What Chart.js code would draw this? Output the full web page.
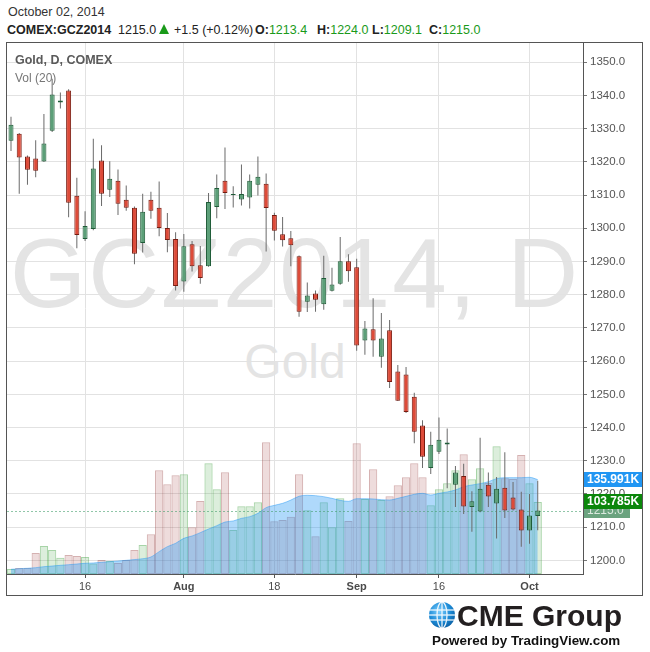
<!DOCTYPE html>
<html>
<head>
<meta charset="utf-8">
<script src="https://cdn.jsdelivr.net/npm/chart.js@4.4.1/dist/chart.umd.min.js"></script>
<style>
html,body{margin:0;padding:0;background:#fff;}
body{width:650px;height:652px;position:relative;overflow:hidden;font-family:"Liberation Sans",Arial,sans-serif;}
.abs{position:absolute;white-space:nowrap;line-height:1;}
#wm1,#wm2{position:absolute;left:7px;width:576px;text-align:center;color:#e4e4e4;white-space:nowrap;line-height:1;z-index:0;}
#wm1{font-size:98px;top:224px;letter-spacing:2px;}
#wm2{font-size:48px;top:338px;}
#c{position:absolute;left:0;top:0;z-index:1;}
#frame{position:absolute;left:6px;top:42px;width:637px;height:554px;box-sizing:border-box;border:1px solid #555;z-index:2;pointer-events:none;}
.ov{z-index:3;}
.b{font-weight:bold;}
.g{color:#1a9a1a;}
</style>
</head>
<body>
<div class="abs" style="left:8px;top:6px;font-size:12.5px;color:#333;">October 02, 2014</div>
<div class="abs b" style="left:7px;top:24px;font-size:12.5px;color:#222;">COMEX:GCZ2014</div>
<div class="abs" style="left:118px;top:24px;font-size:12.5px;color:#222;">1215.0</div>
<div class="abs" style="left:159px;top:24px;width:0;height:0;border-left:5px solid transparent;border-right:5px solid transparent;border-bottom:10px solid #1a9a1a;"></div>
<div class="abs" style="left:174px;top:24px;font-size:12.5px;color:#222;">+1.5 (+0.12%)</div>
<div class="abs" style="left:255px;top:24px;font-size:12.5px;color:#222;"><span class="b">O:</span><span class="g">1213.4</span></div>
<div class="abs" style="left:317px;top:24px;font-size:12.5px;color:#222;"><span class="b">H:</span><span class="g">1224.0</span></div>
<div class="abs" style="left:372px;top:24px;font-size:12.5px;color:#222;"><span class="b">L:</span><span class="g">1209.1</span></div>
<div class="abs" style="left:429px;top:24px;font-size:12.5px;color:#222;"><span class="b">C:</span><span class="g">1215.0</span></div>

<div id="wm1">GCZ2014, D</div>
<div id="wm2">Gold</div>

<canvas id="c" width="650" height="652"></canvas>
<div id="frame"></div>

<div class="abs ov b" style="left:15px;top:54px;font-size:12.5px;color:#5a5a5a;">Gold, D, COMEX</div>
<div class="abs ov" style="left:15px;top:72px;font-size:12px;color:#777;">Vol (20)</div>

<svg class="abs ov" style="left:428px;top:601px;" width="28" height="28" viewBox="0 0 28 28">
  <defs>
    <radialGradient id="gl" cx="40%" cy="35%" r="70%">
      <stop offset="0" stop-color="#7fd0ff"/>
      <stop offset="0.6" stop-color="#1b8ad6"/>
      <stop offset="1" stop-color="#0b5fa3"/>
    </radialGradient>
  </defs>
  <circle cx="14" cy="14" r="13" fill="url(#gl)"/>
  <g stroke="#fff" stroke-width="1.3" fill="none" opacity="0.9">
    <line x1="1.5" y1="9" x2="26.5" y2="9"/>
    <line x1="1" y1="14" x2="27" y2="14"/>
    <line x1="1.5" y1="19" x2="26.5" y2="19"/>
    <ellipse cx="14" cy="14" rx="5" ry="13"/>
    <line x1="14" y1="1" x2="14" y2="27"/>
  </g>
</svg>
<div class="abs ov b" style="left:457px;top:601px;font-size:30px;color:#231f20;">CME Group</div>
<div class="abs ov b" style="left:432px;top:634px;font-size:13.4px;color:#111;">Powered by TradingView.com</div>

<script>
// ---------- data ----------
const days = [
 '2014-07-02','2014-07-03','2014-07-07','2014-07-08','2014-07-09','2014-07-10','2014-07-11',
 '2014-07-14','2014-07-15','2014-07-16','2014-07-17','2014-07-18','2014-07-21','2014-07-22',
 '2014-07-23','2014-07-24','2014-07-25','2014-07-28','2014-07-29','2014-07-30','2014-07-31',
 '2014-08-01','2014-08-04','2014-08-05','2014-08-06','2014-08-07','2014-08-08','2014-08-11',
 '2014-08-12','2014-08-13','2014-08-14','2014-08-15','2014-08-18','2014-08-19','2014-08-20',
 '2014-08-21','2014-08-22','2014-08-25','2014-08-26','2014-08-27','2014-08-28','2014-08-29',
 '2014-09-02','2014-09-03','2014-09-04','2014-09-05','2014-09-08','2014-09-09','2014-09-10',
 '2014-09-11','2014-09-12','2014-09-15','2014-09-16','2014-09-17','2014-09-18','2014-09-19',
 '2014-09-22','2014-09-23','2014-09-24','2014-09-25','2014-09-26','2014-09-29','2014-09-30',
 '2014-10-01','2014-10-02'
];
const opens = [
 1326.4,1328.5,1321.6,1321.0,1320.1,1329.4,1337.9,1341.5,1309.8,1296.8,1299.8,1320.4,1311.6,1314.3,
 1308.6,1306.2,1295.6,1308.6,1306.2,1300.1,1296.8,1284.0,1295.2,1288.9,1288.6,1306.4,1314.3,1310.0,
 1308.7,1309.3,1313.1,1313.4,1304.0,1298.2,1297.0,1291.6,1277.9,1280.4,1277.1,1281.2,1283.3,1290.1,
 1288.3,1266.2,1269.6,1261.3,1269.3,1256.9,1256.0,1249.3,1240.6,1227.8,1232.7,1234.9,1222.8,1225.4,
 1216.1,1214.7,1222.8,1217.1,1221.9,1218.9,1215.3,1209.0,1213.4
];
const highs = [
 1333.6,1328.7,1321.9,1326.5,1334.4,1345.0,1340.9,1341.9,1315.2,1305.1,1327.0,1325.0,1320.2,1317.7,
 1312.9,1306.6,1310.4,1311.0,1314.1,1304.6,1298.8,1298.3,1296.2,1294.7,1310.6,1316.2,1324.3,1312.7,
 1319.2,1316.2,1321.6,1316.5,1304.7,1303.4,1299.2,1291.8,1283.7,1281.3,1291.7,1288.1,1297.4,1292.2,
 1290.8,1272.1,1278.9,1274.5,1272.4,1258.8,1258.2,1250.5,1242.2,1238.7,1243.0,1239.7,1228.4,1229.1,
 1220.8,1236.9,1226.5,1225.1,1232.6,1223.6,1220.7,1220.0,1224.0
];
const lows = [
 1323.3,1310.4,1313.1,1315.4,1320.0,1329.0,1336.1,1303.3,1294.0,1296.2,1299.4,1306.7,1309.4,1304.0,
 1305.3,1289.2,1292.7,1302.9,1297.6,1292.8,1281.3,1280.9,1287.0,1283.3,1288.4,1303.0,1305.8,1306.3,
 1306.9,1306.0,1309.9,1293.0,1296.3,1294.5,1288.6,1273.4,1274.8,1274.9,1275.5,1281.0,1283.0,1283.9,
 1263.1,1261.9,1261.3,1258.0,1251.9,1248.0,1244.4,1235.3,1227.8,1226.0,1232.0,1221.7,1216.1,1214.0,
 1208.6,1214.5,1216.1,1206.6,1212.8,1215.0,1204.1,1205.0,1209.1
];
const closes = [
 1331.2,1321.3,1317.6,1317.3,1325.5,1340.3,1338.5,1307.7,1298.0,1300.7,1318.0,1310.4,1314.9,1307.4,
 1306.2,1292.3,1305.0,1305.3,1300.1,1296.5,1282.6,1294.6,1288.6,1285.0,1307.9,1312.1,1310.6,1310.3,
 1310.3,1314.3,1315.5,1306.1,1299.3,1296.4,1294.9,1274.9,1279.8,1278.5,1285.0,1283.1,1290.1,1287.1,
 1264.7,1269.8,1266.2,1266.8,1253.7,1248.1,1244.7,1238.7,1231.2,1234.8,1236.3,1235.5,1226.5,1216.2,
 1217.8,1221.6,1219.2,1221.6,1215.0,1215.3,1209.0,1213.5,1215.0
];
// volume in thousands of contracts
const volumes = [
 7.2,8.6,8.6,30.3,40.3,34.6,23.5,27.4,25.9,24.5,15.0,20.2,18.7,15.9,
 20.2,34.6,41.8,57.2,149.4,129.2,142.2,143.6,67.2,105.2,159.5,122.0,146.5,63.4,
 97.5,97.5,103.3,189.7,75.9,77.8,82.5,143.6,91.7,54.3,103.3,67.2,109.0,76.4,
 188.3,108.1,150.8,106.6,111.9,127.8,139.3,159.5,139.3,98.9,122.0,130.6,149.4,172.4,
 136.4,152.3,131.0,184.0,138.0,137.0,171.5,130.6,103.785
];
// 20-period volume moving average (thousands)
const volMA = [
 6.7,7.7,8.2,9.1,10.6,11.5,12.5,13.4,14.4,15.4,15.9,16.8,17.8,18.7,
 19.7,20.8,22.0,24.5,32.2,39.4,44.2,51.4,54.8,59.6,64.8,69.6,74.9,76.4,
 80.2,82.6,87.4,95.6,98.9,101.8,106.5,112.0,113.4,112.9,111.4,109.0,106.1,104.7,
 108.5,108.5,108.1,107.1,106.6,109.0,111.9,114.8,116.2,113.8,116.2,118.2,121.0,125.8,
 128.2,130.2,133.0,137.4,138.8,138.8,138.8,139.3,135.991
];
const priceTicks = [1200,1210,1220,1230,1240,1250,1260,1270,1280,1290,1300,1310,1320,1330,1340,1350];
const xTickDates = ['2014-07-16','2014-08-01','2014-08-18','2014-09-02','2014-09-16','2014-10-01'];
const xTickLabels = ['16','Aug','18','Sep','16','Oct'];
const monthLabels = ['Aug','Sep','Oct'];

// ---------- chart ----------
const FONT = '"Liberation Sans", Arial, sans-serif';
const xTickIdx = xTickDates.map(d => days.indexOf(d));
const up = closes.map((c, i) => c >= opens[i]);
const lastClose = closes[closes.length - 1];
const lastVol = volumes[volumes.length - 1];
const lastMA = volMA[volMA.length - 1];

const bodyData = opens.map((o, i) => ({x: i, y: [o, closes[i]]}));
const wickData = lows.map((l, i) => ({x: i, y: [l, highs[i]]}));
const volData = volumes.map((v, i) => ({x: i, y: v}));
const maData = volMA.map((v, i) => ({x: i, y: v}));

const priceLine = {
  id: 'priceLine',
  afterDatasetDraw(chart, args) {
    if (chart.data.datasets[args.index].label !== 'Vol MA') return;
    const {ctx, chartArea} = chart;
    const y = Math.round(chart.scales.y.getPixelForValue(lastClose)) + 0.5;
    ctx.save();
    ctx.strokeStyle = 'rgba(70,160,110,0.6)';
    ctx.lineWidth = 1;
    ctx.setLineDash([2, 2]);
    ctx.beginPath();
    ctx.moveTo(chartArea.left, y);
    ctx.lineTo(chartArea.right, y);
    ctx.stroke();
    ctx.restore();
  }
};

const valueTags = {
  id: 'valueTags',
  afterDraw(chart) {
    const {ctx, chartArea} = chart;
    const x0 = chartArea.right + 1;
    const tag = (yc, text, bg, fg, w, bold) => {
      const top = Math.round(yc - 7.5);
      ctx.fillStyle = bg;
      ctx.fillRect(x0, top, w, 15);
      ctx.fillStyle = fg;
      ctx.font = (bold ? 'bold ' : '') + '12px ' + FONT;
      ctx.textBaseline = 'middle';
      ctx.textAlign = 'left';
      ctx.fillText(text, x0 + 3, top + 8);
    };
    ctx.save();
    tag(chart.scales.y.getPixelForValue(lastClose), lastClose.toFixed(1), '#6ba37f', '#dbe9df', 46, false);
    tag(chart.scales.yv.getPixelForValue(lastVol), lastVol.toFixed(3) + 'K', '#0b870b', '#ffffff', 58, true);
    tag(chart.scales.yv.getPixelForValue(lastMA), lastMA.toFixed(3) + 'K', '#2196f3', '#ffffff', 58, true);
    ctx.restore();
  }
};

new Chart(document.getElementById('c'), {
  type: 'bar',
  data: {
    datasets: [
      {
        label: 'Body', data: bodyData, yAxisID: 'y', order: 1, grouped: false,
        backgroundColor: up.map(u => u ? '#5c9f78' : '#dd4b39'),
        borderColor: up.map(u => u ? '#1f5c38' : '#771b10'),
        borderWidth: 1, borderSkipped: false, inflateAmount: 0, maxBarThickness: 5
      },
      {
        label: 'Wick', data: wickData, yAxisID: 'y', order: 2, grouped: false,
        backgroundColor: '#6a6a6a', borderWidth: 0, inflateAmount: 0, maxBarThickness: 1
      },
      {
        type: 'line', label: 'Vol MA', data: maData, yAxisID: 'yv', order: 3,
        fill: 'origin', backgroundColor: 'rgba(33,150,243,0.36)',
        borderColor: 'rgba(33,150,243,0.45)', borderWidth: 1,
        pointRadius: 0, cubicInterpolationMode: 'monotone'
      },
      {
        label: 'Volume', data: volData, yAxisID: 'yv', order: 4, grouped: false,
        backgroundColor: up.map(u => u ? 'rgba(60,160,60,0.18)' : 'rgba(160,60,60,0.18)'),
        borderColor: up.map(u => u ? 'rgba(60,160,60,0.45)' : 'rgba(150,60,60,0.4)'),
        borderWidth: 1, borderSkipped: false, inflateAmount: 0,
        barPercentage: 1, categoryPercentage: 1
      }
    ]
  },
  options: {
    responsive: false,
    animation: false,
    events: [],
    layout: {padding: {left: 7, top: 43, right: 8, bottom: 56}},
    plugins: {legend: {display: false}, tooltip: {enabled: false}},
    scales: {
      x: {
        type: 'linear', min: -0.486, max: 69.5, offset: false,
        grid: {offset: false, color: '#e2e2e2', tickLength: 4, tickColor: '#555'},
        border: {color: '#555', width: 1},
        afterBuildTicks: s => { s.ticks = xTickIdx.map(v => ({value: v})); },
        afterFit: s => { s.height = 22; },
        ticks: {
          autoSkip: false, maxRotation: 0, padding: 2, color: '#4a4a4a',
          font: c => ({family: FONT, size: 11,
            weight: (c.tick && monthLabels.includes(xTickLabels[xTickIdx.indexOf(c.tick.value)])) ? 'bold' : 'normal'}),
          callback: v => { const k = xTickIdx.indexOf(v); return k >= 0 ? xTickLabels[k] : ''; }
        }
      },
      y: {
        position: 'right', min: 1195.9, max: 1355.8,
        grid: {color: '#e2e2e2', tickLength: 4, tickColor: '#777'},
        border: {color: '#555', width: 1},
        afterBuildTicks: s => { s.ticks = priceTicks.map(v => ({value: v})); },
        afterFit: s => { s.width = 59; },
        ticks: {padding: 3, color: '#555', font: {family: FONT, size: 11.5},
          callback: v => Number(v).toFixed(1)}
      },
      yv: {display: false, position: 'left', min: 0, max: 765}
    }
  },
  plugins: [priceLine, valueTags]
});
</script>
</body>
</html>
